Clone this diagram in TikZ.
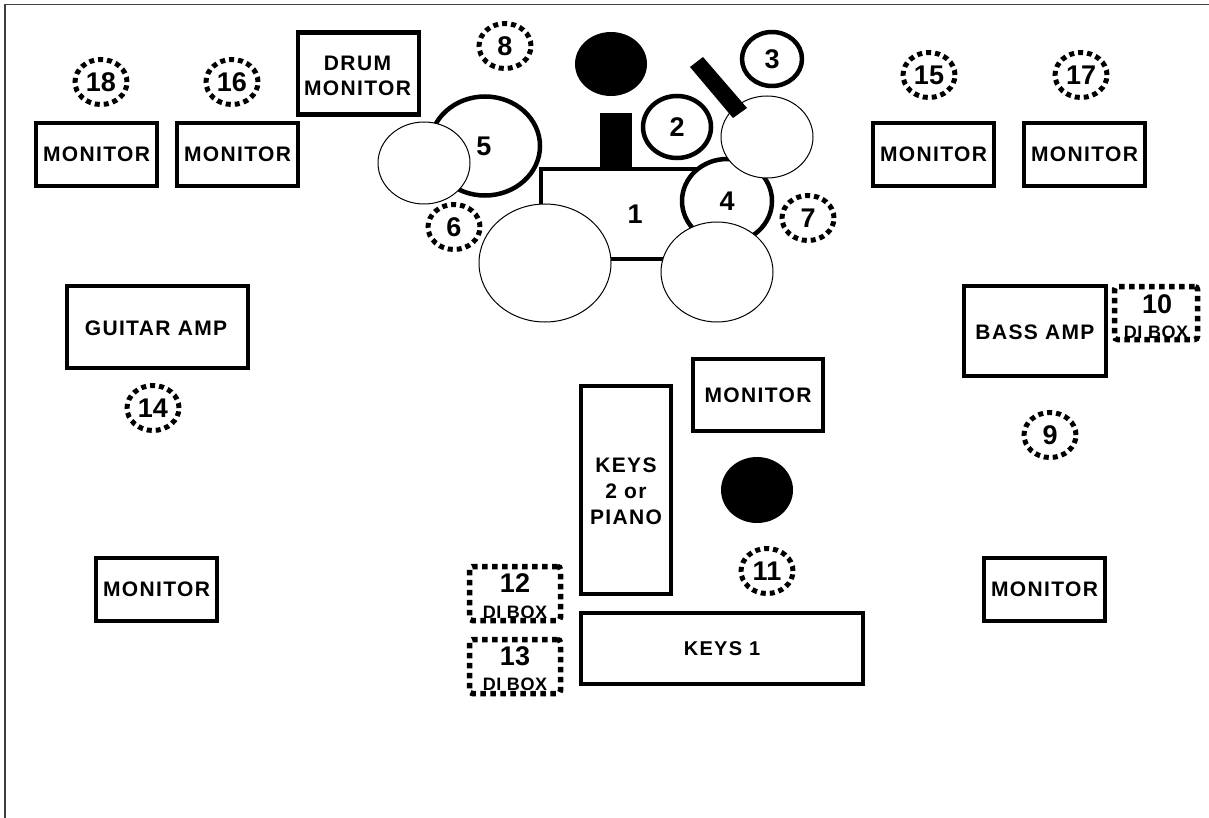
\documentclass[tikz,border=0pt]{standalone}
\usepackage{fontspec}
\setmainfont{Liberation Sans}
\newfontfamily\spfont[LetterSpace=6.5]{Liberation Sans}
\newfontfamily\difont[LetterSpace=3]{Liberation Sans}
\usetikzlibrary{shapes.geometric}
\tikzset{
  lbl/.style={inner sep=0pt,align=center,font=\spfont\bfseries\fontsize{21}{25}\selectfont},
  amp/.style={draw=black,fill=white,line width=4.5pt,rectangle,inner sep=0pt,align=center,lbl},
  dibox/.style={draw=black,fill=white,line width=5.5pt,rectangle,rounded corners=3pt,inner sep=0pt,
    dash pattern=on 5.5pt off 4.5pt},
  num/.style={inner sep=0pt,font=\bfseries\fontsize{27}{27}\selectfont},
  ditext/.style={inner sep=0pt,font=\difont\bfseries\fontsize{18}{18}\selectfont},
  mic/.style={draw=black,line width=5pt,ellipse,inner sep=0pt,minimum width=52pt,minimum height=45pt,
    dash pattern=on 5pt off 4pt,font=\bfseries\fontsize{27}{27}\selectfont},
  drum/.style={draw=black,fill=white,line width=4.5pt,ellipse,inner sep=0pt,font=\bfseries\fontsize{27}{27}\selectfont},
  cym/.style={draw=black,fill=white,line width=1pt,ellipse,inner sep=0pt},
  solid black/.style={fill=black,draw=none,ellipse,inner sep=0pt},
}
\begin{document}
\begin{tikzpicture}[x=1pt,y=-1pt]
\useasboundingbox (0,0) rectangle (1209,818);
\coordinate (bl) at (5,818);
\coordinate (tl) at (5,4.5);
\coordinate (tr) at (1209,4.5);
\draw[line width=1.5pt,draw=black!75] (bl) -- (tl) -- (tr);

% monitors, amps, keys
\node[amp,minimum width=121pt,minimum height=63pt] (mon18) at (96.5,154.5) {MONITOR};
\node[amp,minimum width=121pt,minimum height=63pt] (mon16) at (237.5,154.5) {MONITOR};
\node[amp,minimum width=121pt,minimum height=82pt] (drummon) at (358.5,73.5) {};
\node[lbl] (drummontext) at (357.5,75.5) {DRUM\\MONITOR};
\node[amp,minimum width=121pt,minimum height=63pt] (mon15) at (933.5,154.5) {MONITOR};
\node[amp,minimum width=121pt,minimum height=63pt] (mon17) at (1084.5,154.5) {MONITOR};
\node[amp,minimum width=181pt,minimum height=82pt] (guitar) at (157.5,327) {};
\node[lbl] (guitartext) at (156,328) {GUITAR AMP};
\node[amp,minimum width=142pt,minimum height=90pt] (bass) at (1035,331) {};
\node[lbl] (basstext) at (1035,332) {BASS AMP};
\node[amp,minimum width=130pt,minimum height=72pt] (monc) at (758,395) {MONITOR};
\node[amp,minimum width=90pt,minimum height=208pt] (keys2) at (626,490) {};
\node[lbl,font=\spfont\bfseries\fontsize{21}{26}\selectfont] (keys2text) at (626,491) {KEYS\\2 or\hspace{8pt}\\PIANO};
\node[amp,minimum width=282pt,minimum height=71pt,font=\spfont\bfseries\fontsize{20}{24}\selectfont] (keys1) at (722,648.5) {KEYS 1};
\node[amp,minimum width=121pt,minimum height=63pt] (monbl) at (156.5,589.5) {MONITOR};
\node[amp,minimum width=121pt,minimum height=63pt] (monbr) at (1044.5,589.5) {MONITOR};

% DI boxes
\node[dibox,minimum width=83pt,minimum height=53pt] (di10) at (1156,313) {};
\node[num] (n10) at (1157,304) {10};
\node[ditext] (d10) at (1156,332) {DI BOX};
\node[dibox,minimum width=91pt,minimum height=54pt] (di12) at (515,593.5) {};
\node[num] (n12) at (515,583) {12};
\node[ditext] (d12) at (515,612) {DI BOX};
\node[dibox,minimum width=91pt,minimum height=54pt] (di13) at (515,666.5) {};
\node[num] (n13) at (515,656) {13};
\node[ditext] (d13) at (515,684) {DI BOX};

% drum kit
\node[solid black,minimum width=72pt,minimum height=64pt] (head) at (611,64) {};
\node[fill=black,draw=none,minimum width=32pt,minimum height=55pt,inner sep=0pt] (seat) at (616,141) {};
\node[drum,minimum width=68pt,minimum height=62pt] (d2) at (677,127) {2};
\node[drum,minimum width=60pt,minimum height=54pt] (d3) at (772,59) {3};
\coordinate (k1) at (541,169);
\coordinate (k2) at (700,259);
\draw[fill=white,line width=4pt] (k1) rectangle (k2);
\node[drum,minimum width=90pt,minimum height=84pt] (d4) at (727,201) {4};
\node[cym,minimum width=92pt,minimum height=82pt] (cymr) at (767,137) {};
\coordinate (s1) at (703,57);
\coordinate (s2) at (690,67);
\coordinate (s3) at (733,118);
\coordinate (s4) at (747,108);
\fill[black] (s1) -- (s2) -- (s3) -- (s4) -- cycle;
\node[drum,minimum width=110pt,minimum height=99pt] (d5) at (485,146) {};
\node[num] (n5) at (484,146) {5};
\node[cym,minimum width=92pt,minimum height=82pt] (cyml) at (424,163) {};
\node[num] (n1) at (635,214) {1};
\node[cym,minimum width=132pt,minimum height=118pt] (tomL) at (545,263) {};
\node[cym,minimum width=112pt,minimum height=100pt] (tomR) at (717,272) {};
\node[solid black,minimum width=72pt,minimum height=66pt] (singer) at (757,490) {};

% mic circles
\node[mic] (m18) at (101,82) {18};
\node[mic] (m16) at (232,82) {16};
\node[mic] (m8) at (505,46) {8};
\node[mic] (m15) at (929,75) {15};
\node[mic] (m17) at (1081,75) {17};
\node[mic] (m6) at (454,227) {6};
\node[mic] (m7) at (808,218) {7};
\node[mic] (m14) at (153,408) {14};
\node[mic] (m9) at (1050,435) {9};
\node[mic] (m11) at (767,571) {11};
\end{tikzpicture}
\end{document}
